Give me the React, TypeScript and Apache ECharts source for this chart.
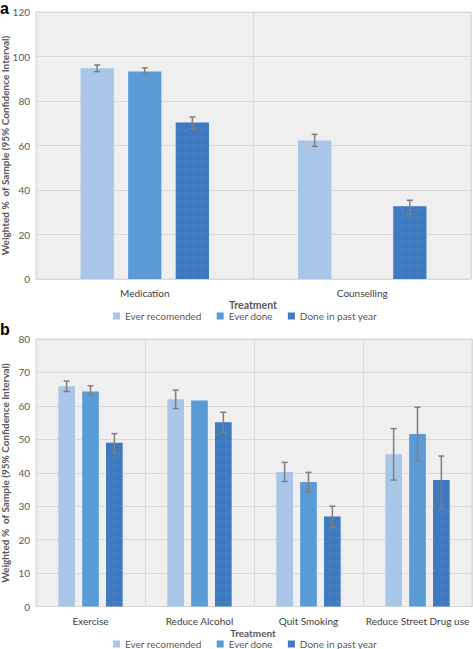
import React, { useEffect, useRef } from "react";
import * as echarts from "echarts";

// Panel a
const catsA = ["Medication", "Counselling"];
const aEver = [94.7, 62.3];
const aEverLow = [93.2, 59.6];
const aEverHigh = [96.2, 65.0];
const aDone = [93.3, null];
const aDoneLow = [92.2, null];
const aDoneHigh = [94.9, null];
const aPast = [70.3, 32.7];
const aPastLow = [67.5, 29.0];
const aPastHigh = [72.8, 35.4];

// Panel b
const catsB = ["Exercise", "Reduce Alcohol", "Quit Smoking", "Reduce Street Drug use"];
const bEver = [65.9, 62.0, 40.2, 45.5];
const bEverLow = [64.3, 59.2, 37.4, 37.8];
const bEverHigh = [67.4, 64.7, 43.1, 53.2];
const bDone = [64.3, 61.6, 37.2, 51.6];
const bDoneLow = [63.3, null, 34.2, 43.6];
const bDoneHigh = [66.0, null, 40.1, 59.6];
const bPast = [49.0, 55.1, 26.9, 37.8];
const bPastLow = [46.0, 52.0, 23.8, 29.1];
const bPastHigh = [51.7, 58.1, 30.0, 45.0];

const seriesNames = ["Ever recomended", "Ever done", "Done in past year"];
const colors = ["#a9c5e8", "#5b9bd5", "#3f79c0"];
const yTicksA = { min: 0, max: 120, interval: 20 };
const yTicksB = { min: 0, max: 80, interval: 10 };

const BAR_RATIO = 0.153;
const GAP_RATIO = 0.43;
const FONT = "Lato";

function errData(low: (number | null)[], high: (number | null)[]) {
  const out: number[][] = [];
  low.forEach((l, i) => {
    const h = high[i];
    if (l != null && h != null) out.push([i, l, h]);
  });
  return out;
}

function errSeries(k: number, low: (number | null)[], high: (number | null)[], axisIdx: number) {
  return {
    type: "custom",
    xAxisIndex: axisIdx,
    yAxisIndex: axisIdx,
    silent: true,
    z: 10,
    data: errData(low, high),
    renderItem: (params: any, api: any) => {
      const ci = api.value(0);
      const lo = api.coord([ci, api.value(1)]);
      const hi = api.coord([ci, api.value(2)]);
      const catW = api.size([1, 0])[0];
      const bw = catW * BAR_RATIO;
      const off = (k - 1) * (bw + bw * GAP_RATIO);
      const x = lo[0] + off;
      const cap = 3;
      const st = { stroke: "#7f7f7f", lineWidth: 1.5 };
      return {
        type: "group",
        children: [
          { type: "line", shape: { x1: x, y1: lo[1], x2: x, y2: hi[1] }, style: st },
          { type: "line", shape: { x1: x - cap, y1: lo[1], x2: x + cap, y2: lo[1] }, style: st },
          { type: "line", shape: { x1: x - cap, y1: hi[1], x2: x + cap, y2: hi[1] }, style: st },
        ],
      };
    },
  };
}

function barSeries(k: number, data: (number | null)[], axisIdx: number) {
  const item: any = { color: colors[k] };
  if (k === 2) {
    item.decal = {
      symbol: "circle",
      symbolSize: 0.3,
      color: "rgba(255,255,255,0.3)",
      dashArrayX: 4,
      dashArrayY: 4,
    };
  }
  return {
    type: "bar",
    name: seriesNames[k],
    xAxisIndex: axisIdx,
    yAxisIndex: axisIdx,
    data: data.map((v) => (v == null ? "-" : v)),
    barWidth: BAR_RATIO * 100 + "%",
    barGap: GAP_RATIO * 100 + "%",
    itemStyle: item,
    z: 2,
  };
}

function xAxis(cats: string[], gridIndex: number) {
  return {
    type: "category",
    gridIndex,
    data: cats,
    boundaryGap: true,
    axisLine: { show: true, lineStyle: { color: "#d9d9d9" } },
    axisTick: { show: false },
    splitLine: { show: true, lineStyle: { color: "#d9d9d9", width: 1 } },
    axisLabel: { color: "#404040", fontSize: 10, fontFamily: FONT, margin: 9, interval: 0 },
  };
}

function yAxis(t: { min: number; max: number; interval: number }, gridIndex: number) {
  return {
    type: "value",
    gridIndex,
    min: t.min,
    max: t.max,
    interval: t.interval,
    axisLine: { show: false },
    axisTick: { show: false },
    splitLine: { show: true, lineStyle: { color: "#d9d9d9", width: 1 } },
    axisLabel: { color: "#595959", fontSize: 10, fontFamily: FONT, margin: 6 },
  };
}

const yTitle = "Weighted %  of Sample (95% Confidence Interval)";

export default function App() {
  const ref = useRef<HTMLDivElement>(null);
  useEffect(() => {
    document.body.style.margin = "0";
    const chart = echarts.init(ref.current!, null, { renderer: "svg" });
    const legendBase = {
      left: 113,
      itemWidth: 7,
      itemHeight: 7,
      itemGap: 15,
      icon: "rect",
      padding: 0,
      textStyle: { color: "#595959", fontSize: 10, lineHeight: 10, fontFamily: FONT },
      data: seriesNames,
      selectedMode: false,
    };
    chart.setOption({
      animation: false,
      backgroundColor: "#ffffff",
      grid: [
        { left: 36, top: 12, width: 435, height: 267, show: true, backgroundColor: "#efefef", borderColor: "#d9d9d9", borderWidth: 1 },
        { left: 36, top: 339, width: 436, height: 267.5, show: true, backgroundColor: "#efefef", borderColor: "#d9d9d9", borderWidth: 1 },
      ],
      legend: [
        { ...legendBase, top: 311 },
        { ...legendBase, top: 639 },
      ],
      xAxis: [xAxis(catsA, 0), xAxis(catsB, 1)],
      yAxis: [yAxis(yTicksA, 0), yAxis(yTicksB, 1)],
      series: [
        barSeries(0, aEver, 0),
        barSeries(1, aDone, 0),
        barSeries(2, aPast, 0),
        barSeries(0, bEver, 1),
        barSeries(1, bDone, 1),
        barSeries(2, bPast, 1),
        errSeries(0, aEverLow, aEverHigh, 0),
        errSeries(1, aDoneLow, aDoneHigh, 0),
        errSeries(2, aPastLow, aPastHigh, 0),
        errSeries(0, bEverLow, bEverHigh, 1),
        errSeries(1, bDoneLow, bDoneHigh, 1),
        errSeries(2, bPastLow, bPastHigh, 1),
      ],
      graphic: [
        { type: "text", x: 0, y: 0, style: { text: "a", font: "bold 16px 'Liberation Sans'", lineHeight: 16, fill: "#000", verticalAlign: "top" } },
        { type: "text", x: 0, y: 321.5, style: { text: "b", font: "bold 16px 'Liberation Sans'", lineHeight: 16, fill: "#000", verticalAlign: "top" } },
        { type: "text", x: 253, y: 305, style: { text: "Treatment", align: "center", verticalAlign: "middle", font: `bold 10.5px ${FONT}`, fill: "#595959" } },
        { type: "text", x: 253, y: 632.5, style: { text: "Treatment", align: "center", verticalAlign: "middle", font: `bold 10px ${FONT}`, lineHeight: 10, fill: "#595959" } },
        { type: "text", x: 5, y: 145.5, rotation: Math.PI / 2, style: { text: yTitle, align: "center", verticalAlign: "middle", font: `bold 10px ${FONT}`, fill: "#595959" } },
        { type: "text", x: 5, y: 473, rotation: Math.PI / 2, style: { text: yTitle, align: "center", verticalAlign: "middle", font: `bold 10px ${FONT}`, fill: "#595959" } },
      ],
    });
    return () => chart.dispose();
  }, []);
  return <div ref={ref} style={{ width: 473, height: 649 }} />;
}
